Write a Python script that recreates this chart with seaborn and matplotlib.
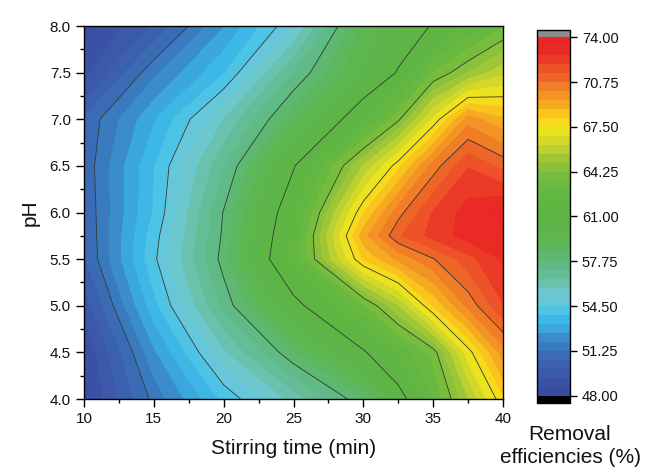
import numpy as np
import matplotlib
matplotlib.use("Agg")
import matplotlib.pyplot as plt
import seaborn as sns
from matplotlib.colors import LinearSegmentedColormap, Normalize
from matplotlib.ticker import MultipleLocator, FormatStrFormatter

# ---- data ----
stirring_time = [10, 15, 20, 25, 30, 32.5, 35, 37.5, 40]
ph_values = [4.0, 4.5, 5.0, 5.5, 5.75, 6.0, 6.5, 7.0, 7.5, 8.0]
eff_ph4_00 = [48.5, 51.45, 54.0, 56.05, 58.25, 60.4, 62.9, 65.5, 68.0]
eff_ph4_50 = [48.6, 52.4, 55.65, 58.3, 60.85, 62.4, 63.9, 67.2, 69.8]
eff_ph5_00 = [49.55, 53.6, 57.3, 60.55, 63.45, 65.5, 68.2, 70.3, 72.0]
eff_ph5_50 = [50.5, 54.35, 58.05, 62.55, 68.2, 69.6, 70.7, 71.8, 72.8]
eff_ph5_75 = [50.6, 54.2, 57.9, 62.3, 69.2, 71.3, 72.3, 73.0, 73.3]
eff_ph6_00 = [50.7, 53.9, 57.8, 61.95, 68.1, 70.5, 72.1, 73.0, 73.5]
eff_ph6_50 = [50.8, 53.8, 57.0, 60.9, 65.6, 67.9, 70.4, 72.0, 71.2]
eff_ph7_00 = [50.7, 53.1, 55.8, 58.8, 61.96, 64.1, 67.0, 69.8, 68.9]
eff_ph7_50 = [49.0, 51.73, 53.8, 57.1, 59.8, 61.1, 63.6, 64.9, 66.0]
eff_ph8_00 = [48.5, 50.0, 52.5, 55.1, 59.25, 60.2, 61.1, 62.3, 63.5]
cbar_ticks = [48.00, 51.25, 54.50, 57.75, 61.00, 64.25, 67.50, 70.75, 74.00]

Z = np.array([eff_ph4_00, eff_ph4_50, eff_ph5_00, eff_ph5_50, eff_ph5_75,
              eff_ph6_00, eff_ph6_50, eff_ph7_00, eff_ph7_50, eff_ph8_00])
X, Y = np.meshgrid(stirring_time, ph_values)

vmin, vmax = cbar_ticks[0], cbar_ticks[-1]
levels = np.linspace(vmin, vmax, 41)
line_levels = cbar_ticks[1:-1]

nodes = [
    (48.0, "#3a4a9f"), (49.5, "#3b56a8"), (51.0, "#3a6db5"), (52.0, "#3a85c6"),
    (53.0, "#3aabe0"), (53.8, "#3ec0ea"), (54.5, "#60c6e0"), (55.5, "#6ec8cc"),
    (56.5, "#66be9e"), (57.75, "#5eb97a"), (59.0, "#5db754"), (61.0, "#5db443"),
    (63.0, "#63b842"), (64.25, "#7dbd3b"), (65.5, "#a8c936"), (66.5, "#d2d82a"),
    (67.5, "#f6e817"), (68.5, "#f9c41c"), (69.5, "#f59f22"), (70.75, "#ef7128"),
    (72.0, "#ec4a28"), (73.0, "#ea2b25"), (74.0, "#e82226"),
]
cmap = LinearSegmentedColormap.from_list(
    "origin_rainbow", [((v - vmin) / (vmax - vmin), c) for v, c in nodes])
cmap.set_over("#8c8c8c")
cmap.set_under("#000000")

# ---- style ----
sns.set_theme(style="ticks")
plt.rcParams["font.family"] = ["Liberation Sans", "DejaVu Sans"]

fig = plt.figure(figsize=(6.57, 4.69), dpi=100)
fig.patch.set_facecolor("white")
ax = fig.add_axes([84 / 657, 1 - 399 / 469, (503 - 84) / 657, (399 - 26) / 469])

norm = Normalize(vmin=vmin, vmax=vmax)
cf = ax.contourf(X, Y, Z, levels=levels, cmap=cmap, norm=norm, extend="both")
ax.contour(X, Y, Z, levels=line_levels, colors="#2f3a35", linewidths=0.6)

ax.set_xlim(10, 40)
ax.set_ylim(4, 8)
ax.xaxis.set_major_locator(MultipleLocator(5))
ax.xaxis.set_minor_locator(MultipleLocator(2.5))
ax.yaxis.set_major_locator(MultipleLocator(0.5))
ax.yaxis.set_minor_locator(MultipleLocator(0.25))
ax.yaxis.set_major_formatter(FormatStrFormatter("%.1f"))
ax.tick_params(which="major", direction="out", length=6, width=1.0,
               labelsize=11, color="black", labelcolor="#111111",
               top=False, right=False)
ax.tick_params(which="minor", direction="out", length=3, width=1.0,
               top=False, right=False, color="black")
for sp in ax.spines.values():
    sp.set_color("black")
    sp.set_linewidth(1.0)
    sp.set_visible(True)
ax.set_xlabel("Stirring time (min)", fontsize=15, labelpad=9, color="#111111")
ax.set_ylabel("pH", fontsize=15, labelpad=7, color="#111111")

# ---- colorbar ----
cax = fig.add_axes([537 / 657, 1 - 403 / 469, 33 / 657, (403 - 30) / 469])
cb = fig.colorbar(cf, cax=cax, extendrect=True, extendfrac=0.02,
                  ticks=cbar_ticks, drawedges=False)
cb.ax.yaxis.set_major_formatter(FormatStrFormatter("%.2f"))
cb.ax.tick_params(direction="out", length=5, width=1.0, labelsize=10.5,
                  color="black", labelcolor="#111111")
cb.ax.minorticks_off()
cb.outline.set_edgecolor("black")
cb.outline.set_linewidth(1.0)

fig.text(570 / 657, 1 - 446 / 469, "Removal\nefficiencies (%)", ha="center",
         va="center", fontsize=15, color="#111111", linespacing=1.25,
         multialignment="center")

fig.savefig("out.png", dpi=100, facecolor="white")
